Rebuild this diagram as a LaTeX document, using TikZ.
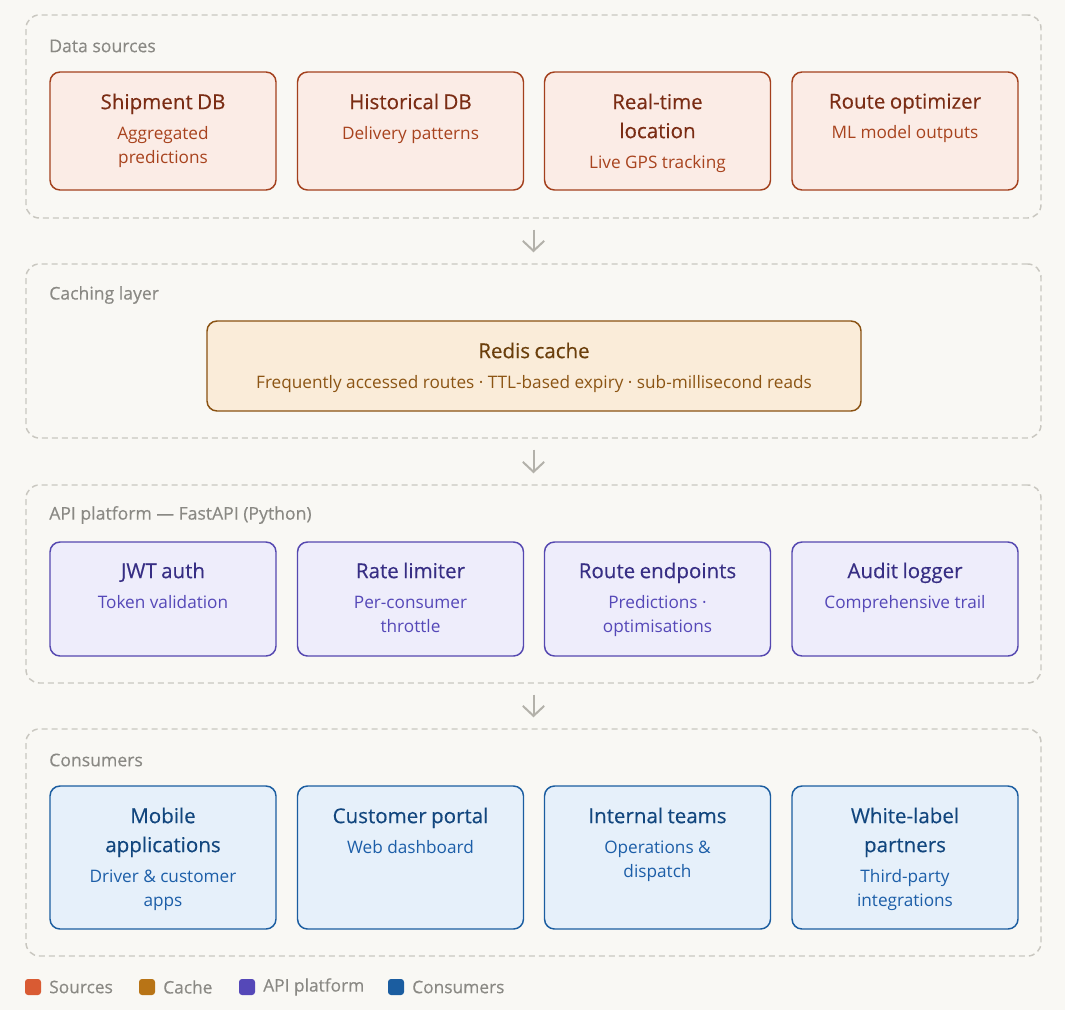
\documentclass[tikz,border=0pt]{standalone}
\usepackage{fontspec}
\setmainfont{Open Sans}
\newfontfamily\medfont{Open Sans}[FakeBold=0.35]
\usetikzlibrary{arrows.meta,calc}
\definecolor{bg}{HTML}{F9F8F4}
\definecolor{frame}{HTML}{C9C7C0}
\definecolor{lbl}{HTML}{8A8984}
\definecolor{arr}{HTML}{B3B1AA}
\definecolor{srcF}{HTML}{FBECE6}\definecolor{srcD}{HTML}{A3401D}\definecolor{srcT}{HTML}{7A2C14}\definecolor{srcS}{HTML}{A8431E}\definecolor{srcL}{HTML}{D95B33}
\definecolor{chF}{HTML}{FAECD9}\definecolor{chD}{HTML}{8A5212}\definecolor{chT}{HTML}{6B3F0C}\definecolor{chS}{HTML}{8C5514}\definecolor{chL}{HTML}{B87416}
\definecolor{apiF}{HTML}{EEEDFB}\definecolor{apiD}{HTML}{5548B0}\definecolor{apiT}{HTML}{372E84}\definecolor{apiS}{HTML}{5548B8}\definecolor{apiL}{HTML}{5548B8}
\definecolor{coF}{HTML}{E6F0FA}\definecolor{coD}{HTML}{1B5DA0}\definecolor{coT}{HTML}{12467E}\definecolor{coS}{HTML}{1C5EA8}\definecolor{coL}{HTML}{1B5DA0}
\newcommand\cardtext[4]{{\color{#1}\medfont\fontsize{15.4}{21.75}\selectfont #3\par}\vspace{4.5pt}{\color{#2}\fontsize{12.9}{18}\selectfont #4\par}}
\tikzset{
  container/.style={draw=frame, line width=1.1pt, dash pattern=on 4.5pt off 3pt, rounded corners=10pt, minimum width=761.25pt, inner sep=0pt},
  card/.style={line width=1.1pt, rounded corners=7.5pt, minimum width=169.5pt, inner sep=0pt},
  srccard/.style={card, draw=srcD, fill=srcF, minimum height=88.5pt},
  apicard/.style={card, draw=apiD, fill=apiF, minimum height=85.5pt},
  cocard/.style={card, draw=coD, fill=coF, minimum height=107.25pt},
  cardtxt/.style={anchor=north, text width=168pt, align=center, inner sep=0pt},
  seclbl/.style={anchor=west, inner sep=0pt, text=lbl, font=\medfont\fontsize{13.2}{15}\selectfont},
  flow/.style={draw=arr, line width=1.5pt, shorten <=8.25pt, shorten >=8.25pt, -{Straight Barb[length=7.5pt, width=16pt, line width=1.5pt]}},
  legsq/.style={minimum size=12pt, inner sep=0pt, rounded corners=2.25pt},
  legtxt/.style={anchor=west, inner sep=0pt, text=lbl, font=\medfont\fontsize{13}{15}\selectfont}
}
\begin{document}
\begin{tikzpicture}[x=0.75pt, y=-0.75pt]
\useasboundingbox[fill=bg] (0,0) rectangle (1065,1010);
% containers
\node[container, minimum height=152.25pt] (c1) at (533.5,116.5) {};
\node[container, minimum height=130.5pt] (c2) at (533.5,351) {};
\node[container, minimum height=148.5pt] (c3) at (533.5,584) {};
\node[container, minimum height=170.25pt] (c4) at (533.5,842.5) {};
\node[seclbl] (l1) at (49,46) {Data sources};
\node[seclbl] (l2) at (49,295) {Caching layer};
\node[seclbl] (l3) at (49,515) {API platform — FastAPI (Python)};
\node[seclbl] (l4) at (49,760) {Consumers};
% arrows
\draw[flow] (c1.south) -- (c2.north);
\draw[flow] (c2.south) -- (c3.north);
\draw[flow] (c3.south) -- (c4.north);
% sources
\node[srccard] (s1) at (163,131) {};
\node[srccard] (s2) at (410.5,131) {};
\node[srccard] (s3) at (657.5,131) {};
\node[srccard] (s4) at (905,131) {};
\node[cardtxt] at ($(s1.north)+(0,22)$) {\cardtext{srcT}{srcS}{Shipment DB}{Aggregated\\predictions}};
\node[cardtxt] at ($(s2.north)+(0,22)$) {\cardtext{srcT}{srcS}{Historical DB}{Delivery patterns}};
\node[cardtxt] at ($(s3.north)+(0,22)$) {\cardtext{srcT}{srcS}{Real-time\\location}{Live GPS tracking}};
\node[cardtxt] at ($(s4.north)+(0,22)$) {\cardtext{srcT}{srcS}{Route optimizer}{ML model outputs}};
% cache
\node[card, draw=chD, fill=chF, minimum width=490.5pt, minimum height=67.5pt] (r1) at (534,366) {};
\node[cardtxt, text width=480pt] at ($(r1.north)+(0,22)$) {\cardtext{chT}{chS}{Redis cache}{Frequently accessed routes · TTL-based expiry · sub-millisecond reads}};
% api
\node[apicard] (a1) at (163,599) {};
\node[apicard] (a2) at (410.5,599) {};
\node[apicard] (a3) at (657.5,599) {};
\node[apicard] (a4) at (905,599) {};
\node[cardtxt] at ($(a1.north)+(0,21)$) {\cardtext{apiT}{apiS}{JWT auth}{Token validation}};
\node[cardtxt] at ($(a2.north)+(0,21)$) {\cardtext{apiT}{apiS}{Rate limiter}{Per-consumer\\throttle}};
\node[cardtxt] at ($(a3.north)+(0,21)$) {\cardtext{apiT}{apiS}{Route endpoints}{Predictions ·\\optimisations}};
\node[cardtxt] at ($(a4.north)+(0,21)$) {\cardtext{apiT}{apiS}{Audit logger}{Comprehensive trail}};
% consumers
\node[cocard] (k1) at (163,857.5) {};
\node[cocard] (k2) at (410.5,857.5) {};
\node[cocard] (k3) at (657.5,857.5) {};
\node[cocard] (k4) at (905,857.5) {};
\node[cardtxt] at ($(k1.north)+(0,22)$) {\cardtext{coT}{coS}{Mobile\\applications}{Driver \& customer\\apps}};
\node[cardtxt] at ($(k2.north)+(0,22)$) {\cardtext{coT}{coS}{Customer portal}{Web dashboard}};
\node[cardtxt] at ($(k3.north)+(0,22)$) {\cardtext{coT}{coS}{Internal teams}{Operations \&\\dispatch}};
\node[cardtxt] at ($(k4.north)+(0,22)$) {\cardtext{coT}{coS}{White-label\\partners}{Third-party\\integrations}};
% legend
\node[legsq, fill=srcL] (g1) at (33,987) {};
\node[legtxt] (g1t) at (49,987) {Sources};
\node[legsq, fill=chL] (g2) at (147,987) {};
\node[legtxt] (g2t) at (163,987) {Cache};
\node[legsq, fill=apiL] (g3) at (247,987) {};
\node[legtxt] (g3t) at (263,987) {API platform};
\node[legsq, fill=coL] (g4) at (396,987) {};
\node[legtxt] (g4t) at (412,987) {Consumers};
\end{tikzpicture}
\end{document}
